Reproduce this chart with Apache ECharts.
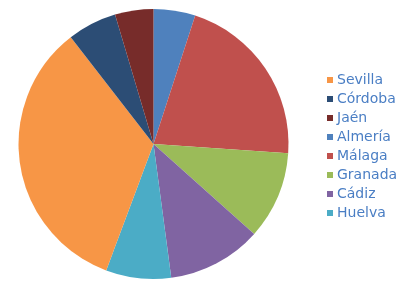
<!DOCTYPE html>
<html>
<head>
<meta charset="utf-8">
<script src="https://cdn.jsdelivr.net/npm/echarts@6/dist/echarts.min.js"></script>
<style>html,body{margin:0;padding:0;background:#fff;}#c{width:409px;height:284px;}</style>
</head>
<body>
<div id="c"></div>
<script>
// Slices in drawing order (clockwise from 12 o'clock)
const categories = ['Almería', 'Málaga', 'Granada', 'Cádiz', 'Huelva', 'Sevilla', 'Córdoba', 'Jaén'];
const values = [5.0, 21.1, 10.5, 11.3, 7.8, 33.8, 5.9, 4.6];
const colors = ['#4F81BD', '#C0504D', '#9BBB59', '#8064A2', '#4BACC6', '#F79646', '#2C4D75', '#772C2A'];
// Legend order as shown in the reference
const legendOrder = ['Sevilla', 'Córdoba', 'Jaén', 'Almería', 'Málaga', 'Granada', 'Cádiz', 'Huelva'];

const chart = echarts.init(document.getElementById('c'), null, {renderer: 'canvas'});
chart.setOption({
  animation: false,
  legend: {
    data: legendOrder,
    orient: 'vertical',
    left: 322,
    top: 68,
    itemWidth: 6,
    itemHeight: 6,
    itemGap: 5,
    icon: 'rect',
    textStyle: {color: '#4A7EC4', fontSize: 14, fontFamily: 'DejaVu Sans', padding: [0, 0, 0, -1]}
  },
  series: [{
    type: 'pie',
    center: [153.5, 144],
    radius: [0, 135],
    startAngle: 90,
    clockwise: true,
    label: {show: false},
    labelLine: {show: false},
    itemStyle: {borderWidth: 0},
    emphasis: {disabled: true},
    data: categories.map((n, i) => ({name: n, value: values[i], itemStyle: {color: colors[i]}}))
  }]
});
</script>
</body>
</html>
